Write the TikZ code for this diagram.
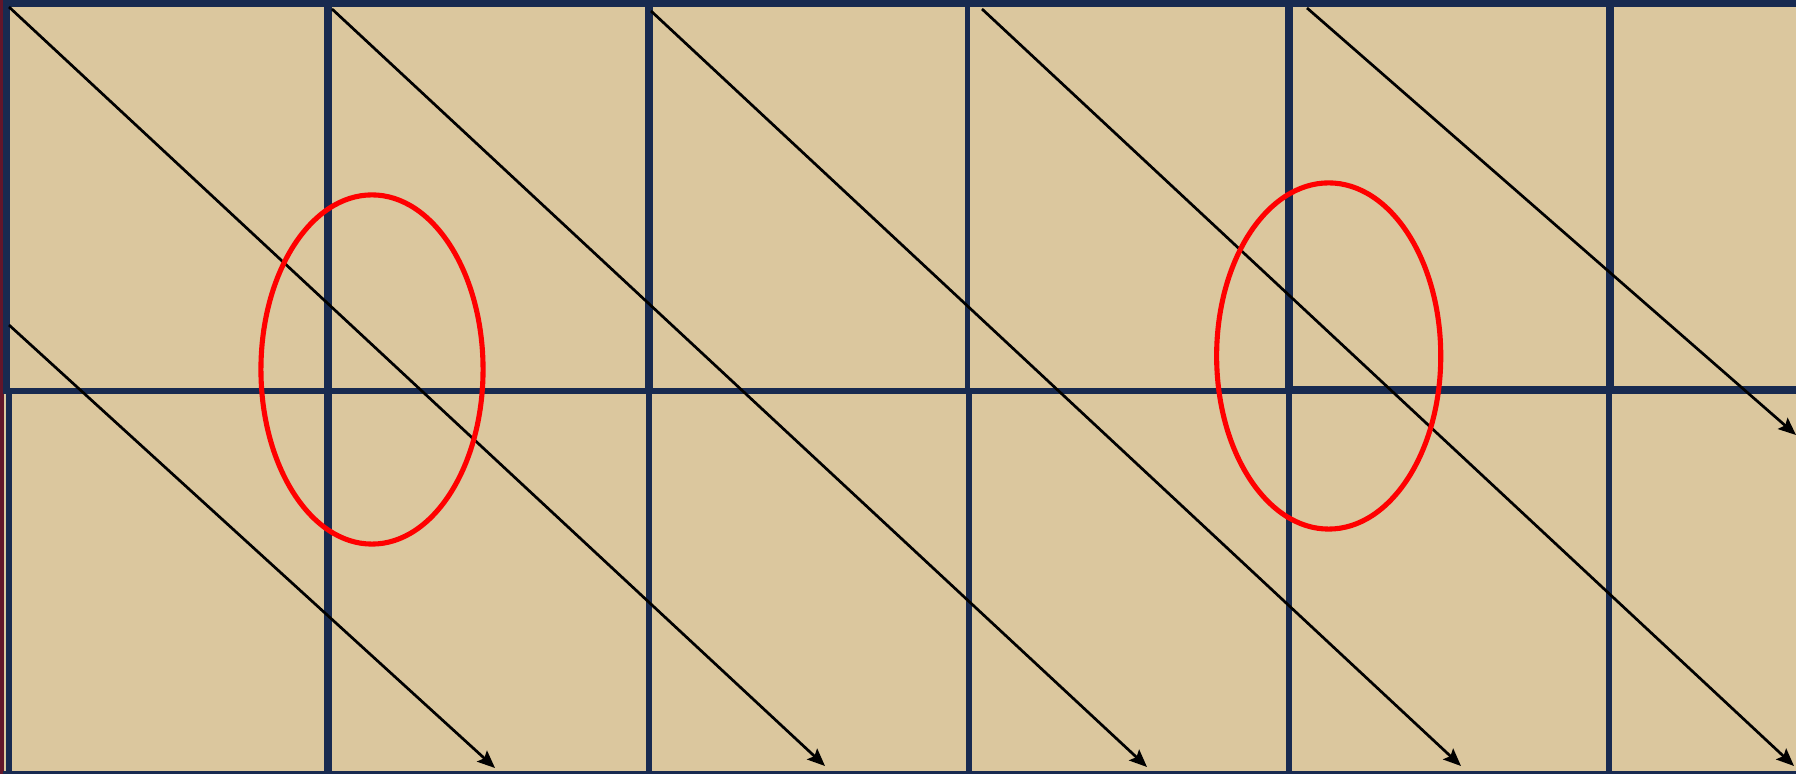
\documentclass[tikz,border=0pt]{standalone}
\usetikzlibrary{arrows.meta}

\definecolor{board}{RGB}{219,199,158}
\definecolor{navy}{RGB}{24,42,80}
\definecolor{wine}{RGB}{98,22,42}
\definecolor{ringred}{RGB}{255,0,0}

\begin{document}
\begin{tikzpicture}[x=0.01cm,y=-0.01cm,>={Stealth[length=5pt,width=4.2pt,inset=0.9pt]},
                    bar/.style={fill=navy},
                    diag/.style={->,line width=0.77pt},
                    ring/.style={draw=ringred,line width=1.45pt}]

  \useasboundingbox (0,0) rectangle (1796,774);
  \fill[board] (0,0) rectangle (1796,774);
  \fill[wine] (0,0) rectangle (4,774);

  % frame and middle rail
  \fill[bar] (3,0) rectangle (1796,7);
  \fill[bar] (3,771) rectangle (1796,774);
  \fill[bar] (3,388) rectangle (1289,394);
  \fill[bar] (1289,386) rectangle (1796,394);
  \fill[bar] (3,0) rectangle (10,391);
  \fill[bar] (5.5,391) rectangle (12,774);

  % upper posts
  \fill[bar] (324,0) rectangle (332,391);
  \fill[bar] (644.5,0) rectangle (652.5,391);
  \fill[bar] (964.5,0) rectangle (970,391);
  \fill[bar] (1284.5,0) rectangle (1292.5,391);
  \fill[bar] (1606,0) rectangle (1614,391);
  % lower posts
  \fill[bar] (324,391) rectangle (332,774);
  \fill[bar] (645.7,391) rectangle (651.7,774);
  \fill[bar] (965.7,391) rectangle (971.7,774);
  \fill[bar] (1285.7,391) rectangle (1291.7,774);
  \fill[bar] (1606,391) rectangle (1612,774);

  \coordinate (s0) at (9,325);   \coordinate (e0) at (495,768);
  \coordinate (s1) at (9,7);     \coordinate (e1) at (825,766);
  \coordinate (s2) at (332,9);   \coordinate (e2) at (1147,767);
  \coordinate (s3) at (651,11);  \coordinate (e3) at (1461,766);
  \coordinate (s4) at (982,9);   \coordinate (e4) at (1794,766);
  \coordinate (s5) at (1307,8);  \coordinate (e5) at (1796,435);

  \path[diag]
    (s0) edge (e0)
    (s1) edge (e1)
    (s2) edge (e2)
    (s3) edge (e3)
    (s4) edge (e4)
    (s5) edge (e5);

  % marked crossings
  \draw[ring] (372,369.5) ellipse [x radius=1.11cm, y radius=1.745cm];
  \draw[ring] (1328.7,356) ellipse [x radius=1.12cm, y radius=1.73cm];
\end{tikzpicture}
\end{document}
